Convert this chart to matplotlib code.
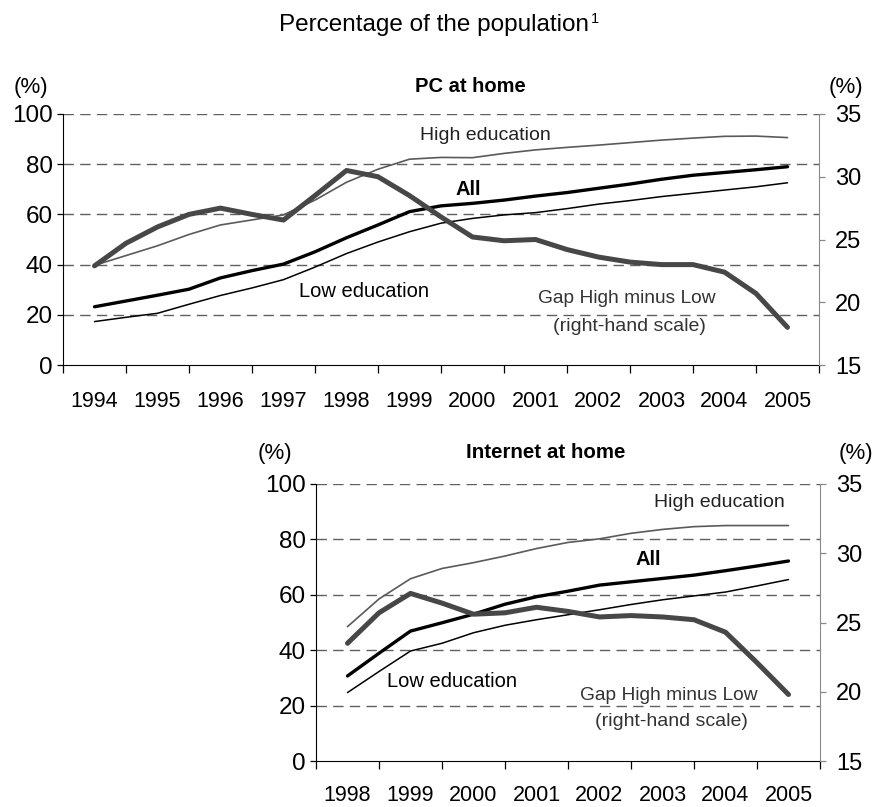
import matplotlib
matplotlib.use('Agg')
import matplotlib.pyplot as plt
from matplotlib.ticker import FixedLocator, NullFormatter, FixedFormatter

plt.rcParams['font.family'] = ['Liberation Sans', 'DejaVu Sans']

W, H = 878, 807

# ---------------- data ----------------
# PC at home, semi-annual observations 1994 - 2005
pc_time = [1994.0, 1994.5, 1995.0, 1995.5, 1996.0, 1996.5, 1997.0, 1997.5,
           1998.0, 1998.5, 1999.0, 1999.5, 2000.0, 2000.5, 2001.0, 2001.5,
           2002.0, 2002.5, 2003.0, 2003.5, 2004.0, 2004.5, 2005.0]
pc_high = [39.7, 43.6, 47.5, 52.0, 55.8, 57.8, 59.8, 65.7, 72.8, 78.0, 82.0, 82.7,
           82.6, 84.3, 85.7, 86.7, 87.6, 88.6, 89.6, 90.4, 91.1, 91.2, 90.6]
pc_all = [23.2, 25.5, 27.8, 30.2, 34.7, 37.6, 40.2, 45.1, 50.7, 55.8, 61.1, 63.4,
          64.4, 65.7, 67.3, 68.7, 70.4, 72.1, 74.0, 75.6, 76.7, 77.8, 79.0]
pc_low = [17.3, 19.0, 20.6, 24.2, 27.7, 30.7, 34.0, 39.0, 44.4, 49.0, 53.1, 56.5,
          58.4, 59.8, 60.7, 62.3, 64.1, 65.5, 67.1, 68.4, 69.7, 71.0, 72.6]
pc_gap = [22.9, 24.7, 26.0, 27.0, 27.5, 27.0, 26.55, 28.5, 30.5, 30.0, 28.5, 26.8,
          25.2, 24.9, 25.0, 24.2, 23.6, 23.2, 23.0, 23.0, 22.4, 20.7, 18.0]
pc_years = [1994, 1995, 1996, 1997, 1998, 1999, 2000, 2001, 2002, 2003, 2004, 2005]

# Internet at home, semi-annual observations 1998 - 2005
int_time = [1998.0, 1998.5, 1999.0, 1999.5, 2000.0, 2000.5, 2001.0, 2001.5,
            2002.0, 2002.5, 2003.0, 2003.5, 2004.0, 2004.5, 2005.0]
int_high = [48.5, 58.5, 65.8, 69.5, 71.6, 74.0, 76.7, 78.9, 80.2, 82.2, 83.6, 84.6,
            85.0, 85.0, 85.0]
int_all = [30.7, 38.9, 46.9, 49.9, 53.0, 56.6, 59.3, 61.3, 63.5, 64.7, 65.9, 67.1,
           68.7, 70.4, 72.2]
int_low = [24.7, 32.3, 39.7, 42.5, 46.3, 49.0, 51.0, 52.8, 54.6, 56.5, 58.2, 59.6,
           61.0, 63.2, 65.5]
int_gap = [23.5, 25.7, 27.1, 26.4, 25.6, 25.7, 26.1, 25.8, 25.4, 25.5, 25.4, 25.2,
           24.3, 22.1, 19.8]
int_years = [1998, 1999, 2000, 2001, 2002, 2003, 2004, 2005]

left_ticks = [0, 20, 40, 60, 80, 100]
right_ticks = [15, 20, 25, 30, 35]

# ---------------- styling ----------------
C_HIGH = '#5a5a5a'
C_GAP = '#474747'
C_GRID = '#606060'
C_RSPINE = '#8a8a8a'


def px(x, y):
    return x / W, 1 - y / H


fig = plt.figure(figsize=(W / 100, H / 100), dpi=100)


def panel(rect_px, time, high, allv, low, gap, years, xpad):
    x0, y0, x1, y1 = rect_px
    ax = fig.add_axes([x0 / W, 1 - y1 / H, (x1 - x0) / W, (y1 - y0) / H])
    ax.set_xlim(years[0] - 0.5, years[-1] + 0.5)
    ax.set_ylim(0, 100)
    for v in left_ticks[1:]:
        ax.axhline(v, color=C_GRID, lw=1.0, ls=(0, (7.5, 4.5)), zorder=1)
    ax.plot(time, high, color=C_HIGH, lw=1.2, zorder=3, solid_capstyle='round')
    ax.plot(time, low, color='black', lw=1.1, zorder=3, solid_capstyle='round')
    ax.plot(time, allv, color='black', lw=2.4, zorder=4, solid_capstyle='round')

    ax.spines['top'].set_visible(False)
    ax.spines['right'].set_visible(False)
    ax.spines['left'].set_color('black')
    ax.spines['bottom'].set_color('black')
    ax.set_yticks(left_ticks)
    ax.tick_params(axis='y', direction='out', length=4.5, width=0.9, pad=3,
                   labelsize=17.5, colors='black')
    bounds = [years[0] - 0.5 + i for i in range(len(years) + 1)]
    ax.xaxis.set_major_locator(FixedLocator(bounds))
    ax.xaxis.set_major_formatter(NullFormatter())
    ax.xaxis.set_minor_locator(FixedLocator(years))
    ax.xaxis.set_minor_formatter(FixedFormatter([str(y) for y in years]))
    ax.tick_params(axis='x', which='major', direction='out', length=5.5, width=0.9)
    ax.tick_params(axis='x', which='minor', length=0, pad=xpad, labelsize=15.5)

    ax2 = ax.twinx()
    ax2.set_ylim(15, 35)
    ax2.set_yticks(right_ticks)
    for s in ['top', 'left', 'bottom']:
        ax2.spines[s].set_visible(False)
    ax2.spines['right'].set_color(C_RSPINE)
    ax2.tick_params(axis='y', direction='out', length=4.5, width=0.9, pad=7,
                    labelsize=17, colors=C_RSPINE, labelcolor='black')
    ax2.plot(time, gap, color=C_GAP, lw=3.6, zorder=5, solid_capstyle='round',
             solid_joinstyle='round')
    return ax, ax2


panel((63, 114, 819, 365), pc_time, pc_high, pc_all, pc_low, pc_gap, pc_years, 19.0)
panel((316, 484, 820, 761), int_time, int_high, int_all, int_low, int_gap, int_years, 17.0)


def txt(x, y, s, size=14, weight='normal', va='center', ha='center', color='black'):
    fx, fy = px(x, y)
    return fig.text(fx, fy, s, fontsize=size, fontweight=weight, va=va, ha=ha,
                    color=color)


# Title with superscript
t = txt(434, 31, 'Percentage of the population', size=17.5, va='baseline')
fig.canvas.draw()
bb = t.get_window_extent()
fig.text((bb.x1 + 2) / W, 1 - 23 / H, '1', fontsize=10.5, va='baseline', ha='left')

# Top panel labels
txt(31, 87, '(%)', size=16)
txt(846, 87, '(%)', size=16)
txt(470, 92, 'PC at home', size=14.5, weight='bold', va='baseline')
txt(485, 135, 'High education', size=14, color='#222222')
txt(468, 195, 'All', size=14.5, weight='bold', va='baseline')
txt(364, 297, 'Low education', size=14.5, va='baseline')
txt(627, 298.5, 'Gap High minus Low', size=13.8, color='#333333')
txt(629, 326, '(right-hand scale)', size=14, color='#333333')

# Bottom panel labels
txt(275, 453, '(%)', size=16)
txt(856, 453, '(%)', size=16)
txt(546, 458, 'Internet at home', size=14.8, weight='bold', va='baseline')
txt(719, 502, 'High education', size=14, color='#222222')
txt(648, 565, 'All', size=14.5, weight='bold', va='baseline')
txt(452, 687, 'Low education', size=14.5, va='baseline')
txt(669, 695, 'Gap High minus Low', size=13.8, color='#333333')
txt(671, 721, '(right-hand scale)', size=14, color='#333333')

fig.savefig('out.png', dpi=100)
